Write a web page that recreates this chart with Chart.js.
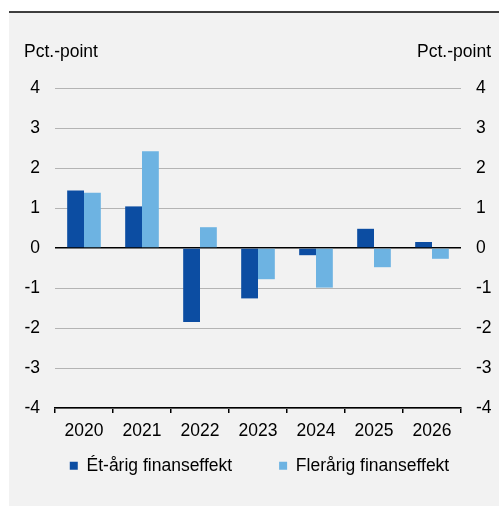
<!DOCTYPE html>
<html>
<head>
<meta charset="utf-8">
<script src="https://cdn.jsdelivr.net/npm/chart.js@4"></script>
<style>
  html, body { margin: 0; padding: 0; background: #fff; }
  #wrap { width: 499px; height: 506px; position: relative; }
</style>
</head>
<body>
<div id="wrap"><canvas id="finansChart"></canvas></div>
<script>
const years = ['2020', '2021', '2022', '2023', '2024', '2025', '2026'];
const etaarig = [1.44, 1.04, -1.85, -1.26, -0.18, 0.48, 0.15];
const flereaarig = [1.38, 2.42, 0.52, -0.78, -0.99, -0.48, -0.27];
const seriesNames = ['Ét-årig finanseffekt', 'Flerårig finanseffekt'];
const axisTitle = 'Pct.-point';

const FONT = 'Liberation Sans, Arial, sans-serif';

const backdrop = {
    id: 'backdrop',
    beforeDraw(chart) {
        const c = chart.ctx;
        c.save();
        c.fillStyle = '#f2f2f2';
        c.fillRect(9, 12, chart.width - 9, chart.height - 12);
        c.strokeStyle = '#000';
        c.lineWidth = 1.5;
        c.beginPath();
        c.moveTo(9, 12);
        c.lineTo(chart.width, 12);
        c.stroke();
        c.restore();
    },
    afterDraw(chart) {
        const c = chart.ctx;
        c.save();
        c.font = '17.5px ' + FONT;
        c.fillStyle = '#000';
        c.textBaseline = 'middle';
        c.textAlign = 'left';
        c.fillText(axisTitle, 24, 52);
        c.textAlign = 'right';
        c.fillText(axisTitle, 491, 52);
        c.restore();
    }
};

const ctxFinans = document.getElementById('finansChart').getContext('2d');
new Chart(ctxFinans, {
    type: 'bar',
    data: {
        labels: years,
        datasets: [{
            label: seriesNames[0],
            data: etaarig,
            backgroundColor: '#0c4da2'
        }, {
            label: seriesNames[1],
            data: flereaarig,
            backgroundColor: '#6db3e2'
        }]
    },
    options: {
        responsive: true,
        maintainAspectRatio: false,
        animation: false,
        barPercentage: 1,
        categoryPercentage: 0.58,
        layout: {
            padding: { top: 88, left: 20, right: 0, bottom: 21.5 }
        },
        scales: {
            x: {
                grid: {
                    offset: true,
                    drawOnChartArea: false,
                    drawTicks: true,
                    tickLength: 5,
                    color: '#000',
                    lineWidth: 1.5
                },
                border: { display: true, color: '#000', width: 1.5 },
                ticks: {
                    // mirror keeps the labels from being clipped to the thin axis box,
                    // negative padding pushes them back below the axis line
                    mirror: true,
                    color: '#000',
                    padding: -34,
                    font: { family: FONT, size: 17.5 }
                },
                afterFit(s) {
                    const lg = s.chart.legend ? s.chart.legend.height : 0;
                    s.height = Math.max(0.5, s.chart.height - 21.5 - lg - 408);
                }
            },
            y: {
                position: 'left',
                min: -4,
                max: 4,
                grid: {
                    drawTicks: false,
                    color: (c) => c.tick && c.tick.value === 0 ? '#000' : '#b4b4b4',
                    lineWidth: (c) => c.tick && c.tick.value === 0 ? 1.5 : 1
                },
                border: { display: false },
                ticks: {
                    stepSize: 1,
                    padding: 15,
                    color: '#000',
                    font: { family: FONT, size: 17.5 }
                },
                afterFit(s) { s.width = 35; }
            },
            y2: {
                position: 'right',
                min: -4,
                max: 4,
                grid: { display: false, drawTicks: false },
                border: { display: false },
                ticks: {
                    stepSize: 1,
                    padding: 15,
                    color: '#000',
                    font: { family: FONT, size: 17.5 }
                },
                afterFit(s) { s.width = 38; }
            }
        },
        plugins: {
            legend: {
                position: 'bottom',
                align: 'center',
                labels: {
                    boxWidth: 8,
                    boxHeight: 8,
                    padding: 47,
                    color: '#000',
                    font: { family: FONT, size: 17.5 }
                }
            },
            tooltip: { enabled: false }
        }
    },
    plugins: [backdrop]
});
</script>
</body>
</html>
